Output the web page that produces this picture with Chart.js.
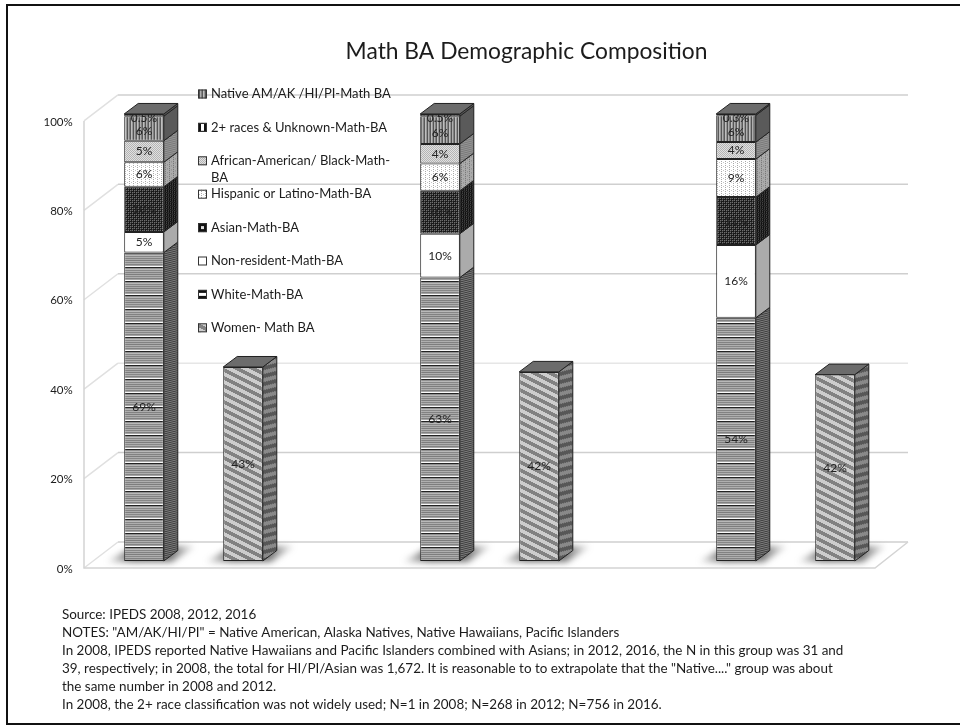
<!DOCTYPE html>
<html>
<head>
<meta charset="utf-8">
<title>Math BA Demographic Composition</title>
<script src="https://cdn.jsdelivr.net/npm/chart.js@4"></script>
<style>
    html, body { margin: 0; padding: 0; background: #fff; overflow: hidden; }
    canvas { display: block; }
</style>
</head>
<body>
<canvas id="myChart" width="960" height="725"></canvas>
<script>
var years = ['2008', '2012', '2016'];

// shares per year, bottom of the stack first
var white = [69.0, 63.4, 54.4];
var nonResident = [4.6, 9.8, 16.3];
var asian = [10.1, 9.6, 10.7];
var hispanic = [5.5, 6.1, 8.5];
var black = [4.8, 4.4, 3.8];
var twoPlus = [5.5, 6.2, 6.0];
var nativeAm = [0.5, 0.5, 0.3];
var women = [43.4, 42.3, 41.7];

var seriesNames = [
    'White-Math-BA',
    'Non-resident-Math-BA',
    'Asian-Math-BA',
    'Hispanic or Latino-Math-BA',
    'African-American/ Black-Math-BA',
    '2+ races & Unknown-Math-BA',
    'Native AM/AK /HI/PI-Math BA',
    'Women- Math BA'
];
var legendOrder = [6, 5, 4, 3, 2, 1, 0, 7];

var noteLines = [
    'Source: IPEDS 2008, 2012, 2016',
    'NOTES: "AM/AK/HI/PI" = Native American, Alaska Natives, Native Hawaiians, Pacific Islanders',
    'In 2008, IPEDS reported Native Hawaiians and Pacific Islanders combined with Asians; in 2012, 2016, the N in this group was 31 and',
    '39, respectively; in 2008, the total for HI/PI/Asian was 1,672. It is reasonable to to extrapolate that the "Native...." group was about',
    'the same number in 2008 and 2012.',
    'In 2008, the 2+ race classification was not widely used; N=1 in 2008; N=268 in 2012; N=756 in 2016.'
];

var FONT = 'Lato, "Open Sans", sans-serif';
var DEPTH_X = 14, DEPTH_Y = 10.5;   // bar extrusion
var WALL_X = 34, WALL_Y = 26;       // depth of the chart box
var WALL_DROP = 7;                  // front plane sits below the bar base

var canvas = document.getElementById('myChart');
var ctx = canvas.getContext('2d');

function grey(v) {
    return 'rgb(' + v + ',' + v + ',' + v + ')';
}

// small repeating tile, shade(x, y) gives a grey level
function tile(w, h, shade) {
    var c = document.createElement('canvas');
    c.width = w;
    c.height = h;
    var t = c.getContext('2d');
    for (var y = 0; y < h; y++) {
        for (var x = 0; x < w; x++) {
            t.fillStyle = grey(shade(x, y));
            t.fillRect(x, y, 1, 1);
        }
    }
    return c;
}

var whiteRows = [250, 35, 145, 185, 135, 175, 130, 170, 125, 175, 135, 175, 130, 165];
var tiles = [
    tile(4, 14, function (x, y) { return whiteRows[y]; }),
    tile(2, 2, function () { return 255; }),
    tile(4, 4, function (x, y) { return (x % 2 === 0 && y % 2 === 0) ? 110 : (x + y) % 4 === 1 ? 60 : 25; }),
    tile(4, 4, function (x, y) { return (x === 1 && y % 2 === 1) ? 170 : (x === 3 && y === 2) ? 200 : 255; }),
    tile(2, 2, function (x, y) { return (x + y) % 2 === 0 ? 180 : 225; }),
    tile(6, 4, function (x) { return [150, 85, 175, 130, 90, 190][x]; }),
    tile(6, 2, function (x) { return [150, 85, 175, 130, 90, 190][x]; }),
    tile(16, 8, function (x, y) { return ((y - x / 2 + 16) % 8) < 4 ? 130 : 205; })
];
var flatDark = tile(2, 2, function () { return 135; });
var whiteSide = tile(2, 2, function (x, y) { return (x + y) % 2 === 0 ? 90 : 190; });

var fronts = tiles.map(function (t) { return ctx.createPattern(t, 'repeat'); });

// side faces: same tiles sheared along the bar depth, with a few flatter ones
var sides = tiles.map(function (t, i) {
    var src = i === 0 ? whiteSide : (i === 5 || i === 6) ? flatDark : t;
    var p = ctx.createPattern(src, 'repeat');
    p.setTransform(new DOMMatrix([1, -DEPTH_Y / DEPTH_X, 0, 1, 0, 0]));
    return p;
});

function polygon(c, pts) {
    c.beginPath();
    c.moveTo(pts[0][0], pts[0][1]);
    for (var i = 1; i < pts.length; i++) {
        c.lineTo(pts[i][0], pts[i][1]);
    }
    c.closePath();
}

function valueLabel(v) {
    return (v < 1 ? v.toFixed(1) : v.toFixed(0)) + '%';
}

// box walls, floor and the soft shadows under the bars
var wallsPlugin = {
    id: 'walls',
    beforeDatasetsDraw: function (chart) {
        var c = chart.ctx, y = chart.scales.y;
        var frontL = 84, frontR = 875, backL = frontL + WALL_X, backR = frontR + WALL_X - 1;
        c.save();
        c.lineWidth = 1.5;
        [0, 20, 40, 60, 80, 100].forEach(function (v) {
            var fy = y.getPixelForValue(v) + WALL_DROP;
            c.strokeStyle = '#e0e0e0';
            c.beginPath();
            c.moveTo(frontL, fy);
            c.lineTo(backL, fy - WALL_Y);
            c.stroke();
            c.strokeStyle = v === 40 ? '#e6e6e6' : '#cfcfcf';
            c.beginPath();
            c.moveTo(backL, fy - WALL_Y);
            c.lineTo(backR, fy - WALL_Y);
            c.stroke();
        });
        var f0 = y.getPixelForValue(0) + WALL_DROP;
        c.strokeStyle = '#d4d4d4';
        c.beginPath();
        c.moveTo(frontL, y.getPixelForValue(100) + WALL_DROP);
        c.lineTo(frontL, f0);
        c.lineTo(frontR, f0);
        c.lineTo(backR, f0 - WALL_Y);
        c.stroke();

        c.filter = 'blur(3px)';
        [0, 7].forEach(function (ds) {
            chart.getDatasetMeta(ds).data.forEach(function (el) {
                var x0 = el.x - el.width / 2, x1 = el.x + el.width / 2;
                var fade = c.createLinearGradient(x0 - 20, 0, x1 + 34, 0);
                fade.addColorStop(0, 'rgba(90,90,90,0)');
                fade.addColorStop(0.3, 'rgba(90,90,90,0.9)');
                fade.addColorStop(0.7, 'rgba(90,90,90,0.85)');
                fade.addColorStop(1, 'rgba(90,90,90,0)');
                c.fillStyle = fade;
                polygon(c, [[x0 - 18, el.base + 1], [x1 + 8, el.base + 1], [x1 + 32, el.base - 15], [x0 + 10, el.base - 15]]);
                c.fill();
            });
        });
        c.restore();
    },
    afterDatasetsDraw: function (chart) {
        var c = chart.ctx;
        c.save();
        c.lineWidth = 1;
        c.strokeStyle = '#222';
        chart.data.datasets.forEach(function (ds, i) {
            chart.getDatasetMeta(i).data.forEach(function (el) {
                var r = el.x + el.width / 2, l = el.x - el.width / 2;
                polygon(c, [[r, el.base], [r + DEPTH_X, el.base - DEPTH_Y], [r + DEPTH_X, el.y - DEPTH_Y], [r, el.y]]);
                c.fillStyle = sides[i];
                c.fill();
                c.fillStyle = 'rgba(0,0,0,0.33)';
                c.fill();
                c.stroke();
                // roof only on the top segment of a stack
                if (i === 6 || i === 7) {
                    polygon(c, [[l, el.y], [r, el.y], [r + DEPTH_X, el.y - DEPTH_Y], [l + DEPTH_X, el.y - DEPTH_Y]]);
                    c.fillStyle = '#6c6c6c';
                    c.fill();
                    c.stroke();
                }
            });
        });
        c.restore();
    }
};

// value labels, legend, frame and notes
var annotationsPlugin = {
    id: 'annotations',
    afterLayout: function (chart) {
        // title is centred over the plot's right-hand part
        chart.titleBlock.left += 37;
        chart.titleBlock.right += 37;
    },
    afterDraw: function (chart) {
        var c = chart.ctx;
        c.save();
        c.fillStyle = '#222';
        c.font = '12px ' + FONT;
        c.textAlign = 'center';
        c.textBaseline = 'middle';
        chart.data.datasets.forEach(function (ds, i) {
            chart.getDatasetMeta(i).data.forEach(function (el, j) {
                var nudge = (i === 5 || i === 6) ? 3 : 0;
                c.fillText(valueLabel(ds.data[j]), el.x, (el.y + el.base) / 2 + nudge);
            });
        });

        c.textAlign = 'left';
        c.font = '13px ' + FONT;
        legendOrder.forEach(function (idx, row) {
            var y = 94 + row * 33.4;
            drawSwatch(c, idx, 198, y - 4.5);
            c.fillStyle = '#1c1c1c';
            var name = seriesNames[idx];
            if (c.measureText(name).width > 190) {
                var cut = name.lastIndexOf('-') + 1;
                c.fillText(name.slice(0, cut), 211, y);
                c.fillText(name.slice(cut), 211, y + 17);
            } else {
                c.fillText(name, 211, y);
            }
        });

        c.font = '13.45px ' + FONT;
        c.fillStyle = '#1c1c1c';
        noteLines.forEach(function (line, i) {
            c.fillText(line, 62, 615 + i * 18);
        });

        c.strokeStyle = '#111';
        c.lineWidth = 2;
        c.strokeRect(7, 5, 1000, 719);
        c.restore();
    }
};

function drawSwatch(c, idx, x, y) {
    c.fillStyle = fronts[idx];
    c.fillRect(x, y, 9, 9);
    c.fillStyle = '#111';
    if (idx === 0) {
        c.fillRect(x, y, 9, 9);
        c.fillStyle = '#fff';
        c.fillRect(x + 1, y + 3, 7, 3);
    } else if (idx === 5) {
        c.fillRect(x, y, 9, 9);
        c.fillStyle = '#fff';
        c.fillRect(x + 3, y + 1, 3, 7);
    } else if (idx === 2) {
        c.fillRect(x, y, 9, 9);
        c.fillStyle = '#ddd';
        c.fillRect(x + 3, y + 3, 3, 3);
    }
    c.strokeStyle = '#333';
    c.lineWidth = 1;
    c.strokeRect(x + 0.5, y + 0.5, 8, 8);
}

function stackedSet(idx, values, stack) {
    return {
        label: seriesNames[idx],
        data: values,
        stack: stack,
        backgroundColor: fronts[idx],
        borderColor: '#222',
        borderWidth: 1,
        borderSkipped: false,
        categoryPercentage: 0.669,
        barPercentage: 0.4
    };
}

var myChart = new Chart(canvas, {
    type: 'bar',
    data: {
        labels: years,
        datasets: [
            stackedSet(0, white, 'race'),
            stackedSet(1, nonResident, 'race'),
            stackedSet(2, asian, 'race'),
            stackedSet(3, hispanic, 'race'),
            stackedSet(4, black, 'race'),
            stackedSet(5, twoPlus, 'race'),
            stackedSet(6, nativeAm, 'race'),
            stackedSet(7, women, 'women')
        ]
    },
    options: {
        responsive: false,
        animation: false,
        events: [],
        layout: {
            padding: { top: 30, left: 45.5, right: 26.5, bottom: 140 }
        },
        plugins: {
            legend: { display: false },
            tooltip: { enabled: false },
            title: {
                display: true,
                text: 'Math BA Demographic Composition',
                color: '#1c1c1c',
                font: { family: FONT, size: 22.8, weight: 'normal' },
                padding: { top: 8.3, bottom: 48.3 }
            }
        },
        scales: {
            x: {
                stacked: true,
                grid: { display: false },
                border: { display: false },
                afterFit: function (axis) { axis.height = 24; },
                ticks: {
                    color: '#1c1c1c',
                    font: { family: FONT, size: 11.5 },
                    labelOffset: -59,
                    padding: 15,
                    maxRotation: 0
                }
            },
            y: {
                stacked: true,
                min: 0,
                max: 100,
                grid: { display: false },
                border: { display: false },
                afterFit: function (axis) { axis.width = 0; },
                ticks: {
                    stepSize: 20,
                    color: '#1c1c1c',
                    font: { family: FONT, size: 11.5 },
                    mirror: true,
                    crossAlign: 'far',
                    padding: -2,
                    labelOffset: 8,
                    callback: function (val) { return val + '%'; }
                }
            }
        }
    },
    plugins: [wallsPlugin, annotationsPlugin]
});
</script>
</body>
</html>
